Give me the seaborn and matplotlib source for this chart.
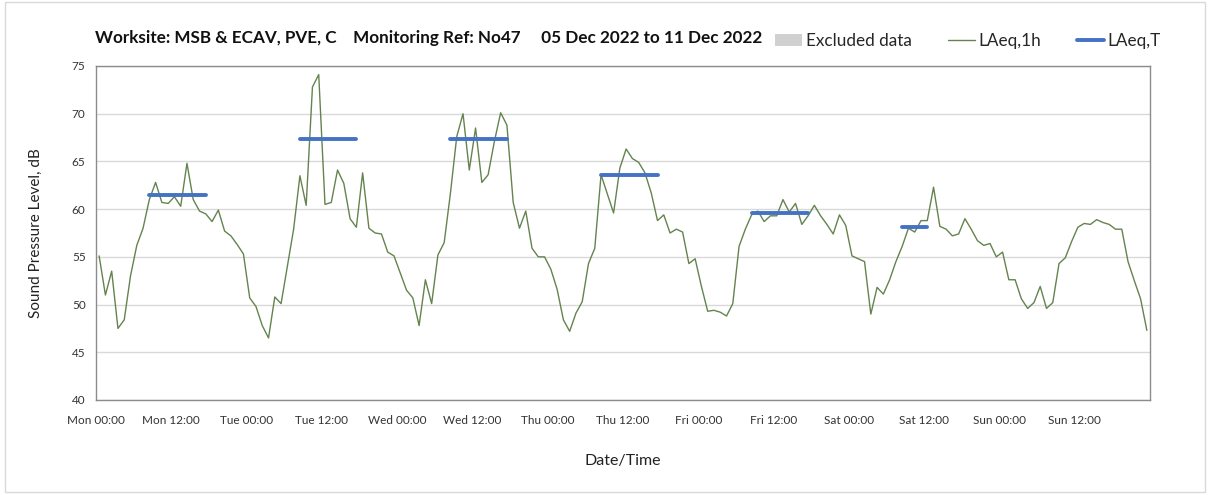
import numpy as np
import pandas as pd
import matplotlib
matplotlib.use("Agg")
import matplotlib.pyplot as plt
import seaborn as sns
from matplotlib.patches import Patch, Rectangle
from matplotlib.lines import Line2D

# ---- data (hourly LAeq,1h, plotted at hour midpoints) ----
mon = [55.1, 51.0, 53.5, 47.5, 48.4, 53.0, 56.2, 58.0, 61.0, 62.8, 60.7, 60.6,
       61.3, 60.3, 64.8, 61.0, 59.8, 59.5, 58.7, 59.9, 57.7, 57.2, 56.3, 55.3]
tue = [50.7, 49.8, 47.8, 46.5, 50.8, 50.1, 54.0, 57.9, 63.5, 60.4, 72.8, 74.1,
       60.5, 60.7, 64.1, 62.7, 59.0, 58.1, 63.8, 58.0, 57.5, 57.4, 55.5, 55.1]
wed = [53.3, 51.5, 50.7, 47.8, 52.6, 50.1, 55.2, 56.5, 61.7, 67.6, 70.0, 64.1,
       68.5, 62.8, 63.6, 67.1, 70.1, 68.8, 60.7, 58.0, 59.8, 55.9, 55.0, 55.0]
thu = [53.7, 51.6, 48.4, 47.2, 49.1, 50.3, 54.3, 55.9, 63.6, 61.6, 59.6, 64.3,
       66.3, 65.3, 64.9, 63.8, 61.7, 58.8, 59.4, 57.5, 57.9, 57.6, 54.3, 54.8]
fri = [51.9, 49.3, 49.4, 49.2, 48.8, 50.1, 56.1, 57.9, 59.4, 59.8, 58.7, 59.3,
       59.3, 61.0, 59.7, 60.6, 58.4, 59.3, 60.4, 59.3, 58.4, 57.4, 59.4, 58.3]
sat = [55.1, 54.8, 54.5, 49.0, 51.8, 51.1, 52.6, 54.5, 56.1, 58.0, 57.6, 58.8,
       58.8, 62.3, 58.2, 57.9, 57.2, 57.4, 59.0, 57.9, 56.7, 56.2, 56.4, 55.0]
sun = [55.5, 52.6, 52.6, 50.6, 49.6, 50.2, 51.9, 49.6, 50.2, 54.3, 54.9, 56.6,
       58.1, 58.5, 58.4, 58.9, 58.6, 58.4, 57.9, 57.9, 54.5, 52.5, 50.6, 47.3]

# LAeq,T per day: value, start hour, end hour
laeqT_values = [61.5, 67.4, 67.4, 63.6, 59.6, 58.1]
laeqT_start = [8.5, 32.5, 56.5, 80.5, 104.5, 128.5]
laeqT_end = [17.5, 41.5, 65.5, 89.5, 113.5, 132.5]

tick_labels = ["Mon 00:00", "Mon 12:00", "Tue 00:00", "Tue 12:00", "Wed 00:00",
               "Wed 12:00", "Thu 00:00", "Thu 12:00", "Fri 00:00", "Fri 12:00",
               "Sat 00:00", "Sat 12:00", "Sun 00:00", "Sun 12:00", ""]

title = "Worksite: MSB & ECAV, PVE, C    Monitoring Ref: No47     05 Dec 2022 to 11 Dec 2022"

# ---- build frames ----
levels = mon + tue + wed + thu + fri + sat + sun
hours = np.arange(len(levels)) + 0.5
df1h = pd.DataFrame({"hour": hours, "level": levels})

rows = []
for i, (v, s, e) in enumerate(zip(laeqT_values, laeqT_start, laeqT_end)):
    rows.append({"seg": i, "hour": s, "level": v})
    rows.append({"seg": i, "hour": e, "level": v})
dfT = pd.DataFrame(rows)

# ---- plot ----
sns.set_theme(style="white")
plt.rcParams["font.family"] = ["Lato", "DejaVu Sans"]

fig = plt.figure(figsize=(12.08, 4.95), dpi=100)
ax = fig.add_axes([96 / 1208, 1 - 400 / 495, (1150 - 96) / 1208, (400 - 66) / 495])

green = "#64834f"
blue = "#4472C4"

sns.lineplot(data=df1h, x="hour", y="level", ax=ax, color=green, lw=1.0,
             estimator=None, legend=False)
sns.lineplot(data=dfT, x="hour", y="level", units="seg", estimator=None, ax=ax,
             color=blue, lw=2.8, legend=False)

ax.set_xlim(0, 168)
ax.set_ylim(40, 75)
ax.set_yticks(np.arange(40, 76, 5))
ax.set_xticks(np.arange(0, 169, 12))
ax.set_xticklabels(tick_labels)
ax.set_xticks(np.arange(0, 169, 24), minor=True)
ax.tick_params(axis="both", which="major", labelsize=8.5, colors="#404040",
               length=4, width=0.8, direction="out")
ax.tick_params(axis="x", which="major", pad=7)
ax.tick_params(axis="x", which="minor", length=0)
for lab in ax.get_xticklabels() + ax.get_yticklabels():
    lab.set_color("#333333")
ax.tick_params(axis="both", which="major", color="#898989")

ax.grid(False)
ax.yaxis.grid(True, color="#d9d9d9", lw=1)
ax.xaxis.grid(True, which="minor", color="#d9d9d9", lw=1)
ax.set_axisbelow(True)
for sp in ax.spines.values():
    sp.set_color("#8c8c8c")
    sp.set_linewidth(1)

ax.set_xlabel("Date/Time", fontsize=11.5, color="#222222", labelpad=20)
ax.set_ylabel("Sound Pressure Level, dB", fontsize=11, color="#222222", labelpad=21)

fig.text(95 / 1208, 1 - 38 / 495, title, fontsize=12.3, fontweight="bold",
         color="#111111", ha="left", va="center")

# legend
handles = [Patch(facecolor="#d0d0d0", edgecolor="none", label="Excluded data"),
           Line2D([0], [0], color=green, lw=1.0, label="LAeq,1h"),
           Line2D([0], [0], color=blue, lw=2.8, label="LAeq,T")]
fig.legend(handles=handles, loc="center left", bbox_to_anchor=(775 / 1208, 1 - 41 / 495),
           ncol=3, frameon=False, fontsize=12.3, handlelength=1.6, handletextpad=0.2,
           columnspacing=2.1, borderaxespad=0, borderpad=0)

# outer chart-area border
fig.patches.append(Rectangle((5 / 1208, 3 / 495), 1200 / 1208, 490 / 495,
                             transform=fig.transFigure, fill=False,
                             edgecolor="#d9d9d9", lw=1))

fig.savefig("out.png", dpi=100, facecolor="white")
